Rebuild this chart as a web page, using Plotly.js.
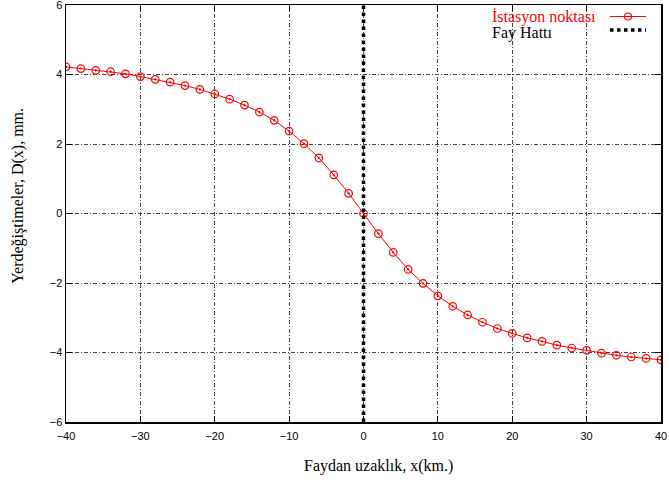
<!DOCTYPE html>
<html>
<head>
<meta charset="utf-8">
<script src="https://cdn.plot.ly/plotly-3.0.1.min.js"></script>
<style>html,body{margin:0;padding:0;background:#fff;}#chart{width:669px;height:483px;}</style>
</head>
<body>
<div id="chart"></div>
<script>
const stationX = [-40,-38,-36,-34,-32,-30,-28,-26,-24,-22,-20,-18,-16,-14,-12,-10,-8,-6,-4,-2,0,2,4,6,8,10,12,14,16,18,20,22,24,26,28,30,32,34,36,38,40];
const stationD = [4.22,4.17,4.12,4.08,4.02,3.94,3.86,3.78,3.68,3.57,3.44,3.29,3.12,2.92,2.68,2.37,2.01,1.60,1.11,0.58,0,-0.58,-1.12,-1.61,-2.01,-2.37,-2.67,-2.92,-3.13,-3.31,-3.45,-3.58,-3.68,-3.79,-3.87,-3.94,-4.02,-4.08,-4.13,-4.17,-4.21];
const faultX = [0,0];
const faultY = [-6,6];
const seriesNames = ["İstasyon noktası","Fay Hattı"];
const xTitle = "Faydan uzaklık, x(km.)";
const yTitle = "Yerdeğiştimeler, D(x), mm.";

const traces = [
  {x: stationX, y: stationD, type:'scatter', mode:'lines+markers', name: seriesNames[0],
   line:{color:'#ff0000', width:1}, marker:{symbol:'circle-open-dot', size:7.5, color:'#ff0000', line:{width:1.2}}},
  {x: faultX, y: faultY, type:'scatter', mode:'lines', name: seriesNames[1],
   line:{color:'#000000', width:3.5, dash:'dot'}}
];

const axisCommon = {
  showline:true, mirror:'ticks', linecolor:'#000', linewidth:1.5,
  ticks:'inside', ticklen:6, tickcolor:'#000', tickwidth:1,
  showgrid:true, gridcolor:'#444', gridwidth:1, griddash:'4px,2px,1px,2px',
  zeroline:false, ticklabeloverflow:'allow',
  tickfont:{family:'Liberation Sans, Arial, sans-serif', size:11, color:'#000'}
};

const px2x = p => (p-66)/595;
const px2y = p => (422.3-p)/417.3;
const serif = 'Liberation Serif, Times New Roman, serif';

const layout = {
  width:669, height:483,
  margin:{l:66, r:8, t:5, b:61},
  paper_bgcolor:'#fff', plot_bgcolor:'#fff',
  showlegend:false,
  xaxis: Object.assign({}, axisCommon, {range:[-40,40], dtick:10, tick0:0, ticklabelstandoff:3}),
  yaxis: Object.assign({}, axisCommon, {range:[-6,6], dtick:2, tick0:0}),
  annotations:[
    {xref:'paper', yref:'paper', x:px2x(490), y:px2y(17), xanchor:'left', yanchor:'middle', showarrow:false,
     text:seriesNames[0], font:{family:serif, size:16, color:'#ff0000'}},
    {xref:'paper', yref:'paper', x:px2x(490), y:px2y(33), xanchor:'left', yanchor:'middle', showarrow:false,
     text:seriesNames[1], font:{family:serif, size:16, color:'#000'}},
    {xref:'paper', yref:'paper', x:px2x(378), y:px2y(466), xanchor:'center', yanchor:'middle', showarrow:false,
     text:xTitle, font:{family:serif, size:16, color:'#000'}},
    {xref:'paper', yref:'paper', x:px2x(18), y:px2y(196), xanchor:'center', yanchor:'middle', showarrow:false, textangle:-90,
     text:yTitle, font:{family:serif, size:16, color:'#000'}}
  ],
  shapes:[
    {type:'line', xref:'paper', yref:'paper', x0:px2x(610), x1:px2x(646), y0:px2y(16.5), y1:px2y(16.5), line:{color:'#ff0000', width:1}},
    {type:'circle', xref:'paper', yref:'paper', xsizemode:'pixel', ysizemode:'pixel', xanchor:px2x(628), yanchor:px2y(16.5),
     x0:-3.5, x1:3.5, y0:-3.5, y1:3.5, line:{color:'#ff0000', width:1.2}, fillcolor:'rgba(0,0,0,0)'},
    {type:'line', xref:'paper', yref:'paper', x0:px2x(610), x1:px2x(646), y0:px2y(30), y1:px2y(30), line:{color:'#000', width:3.5, dash:'dot'}}
  ]
};

Plotly.newPlot('chart', traces, layout, {displayModeBar:false, staticPlot:true});
</script>
</body>
</html>
